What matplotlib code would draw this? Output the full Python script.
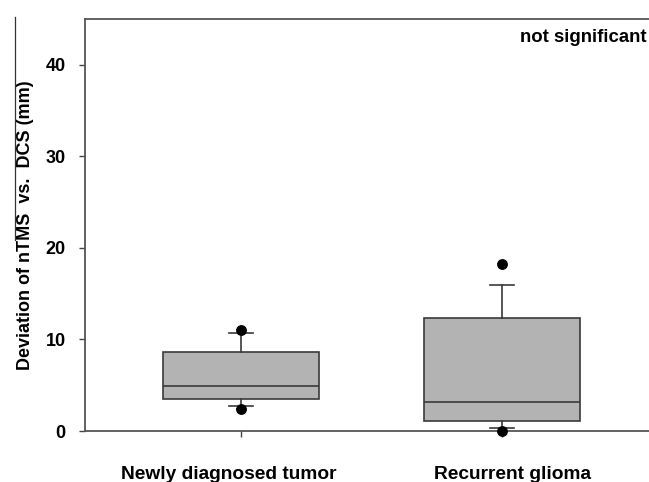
import matplotlib
matplotlib.use("Agg")
import matplotlib.pyplot as plt
from matplotlib.lines import Line2D
from matplotlib.transforms import ScaledTranslation

plt.rcParams['font.family'] = ['Liberation Sans', 'DejaVu Sans']

categories = ["Newly diagnosed tumor", "Recurrent glioma"]
medians = [4.9, 3.2]
q1s = [3.55, 1.05]
q3s = [8.65, 12.35]
whisk_lo = [2.7, 0.35]
whisk_hi = [10.75, 16.0]
fliers = [[11.05, 2.4], [18.2, 0.05]]
yticks = [0, 10, 20, 30, 40]

fig = plt.figure(figsize=(6.49, 4.82), dpi=100)
ax = fig.add_axes([0.131, 0.1058, 0.869, 0.8548])

stats = []
for i, c in enumerate(categories):
    stats.append(dict(label=c, med=medians[i], q1=q1s[i], q3=q3s[i],
                      whislo=whisk_lo[i], whishi=whisk_hi[i], fliers=fliers[i]))

edge = '#3a3a3a'
ax.bxp(stats, positions=[1, 2], widths=0.598, capwidths=0.092, patch_artist=True,
       boxprops=dict(facecolor='#b3b3b3', edgecolor=edge, linewidth=1.2),
       medianprops=dict(color=edge, linewidth=1.2),
       whiskerprops=dict(color=edge, linewidth=1.2),
       capprops=dict(color=edge, linewidth=1.2),
       flierprops=dict(marker='o', markerfacecolor='black', markeredgecolor='black',
                       markersize=6.8, zorder=5, clip_on=False))

ax.set_xlim(0.402, 2.563)
ax.set_ylim(0, 45)
ax.set_yticks(yticks)
ax.set_xticks([1, 2])
ax.set_xticklabels(categories, fontsize=13.8, fontweight='bold')
ax.tick_params(axis='x', length=4, width=1, color='#444444', pad=21)
ax.tick_params(axis='y', length=4, width=1, color='#444444', pad=10, labelsize=13)
for lab in ax.get_yticklabels():
    lab.set_fontweight('bold')
offsets = [-12, 10]
for lab, dx in zip(ax.get_xticklabels(), offsets):
    lab.set_transform(lab.get_transform() + ScaledTranslation(dx / 100, 0, fig.dpi_scale_trans))
ax.spines['right'].set_visible(False)
for s in ['left', 'top', 'bottom']:
    ax.spines[s].set_color('#555555')
    ax.spines[s].set_linewidth(1.3)

ax.set_ylabel("Deviation of nTMS  vs.  DCS (mm)", fontsize=13, fontweight='bold', labelpad=8)
ax.text(0.995, 0.955, "not significant", transform=ax.transAxes, ha='right', va='center',
        fontsize=13.4, fontweight='bold')

fig.add_artist(Line2D([15 / 649, 15 / 649], [1 - 17 / 482, 1 - 240 / 482],
                      transform=fig.transFigure, color='#333333', linewidth=0.9))

fig.savefig("out.png", dpi=100)
